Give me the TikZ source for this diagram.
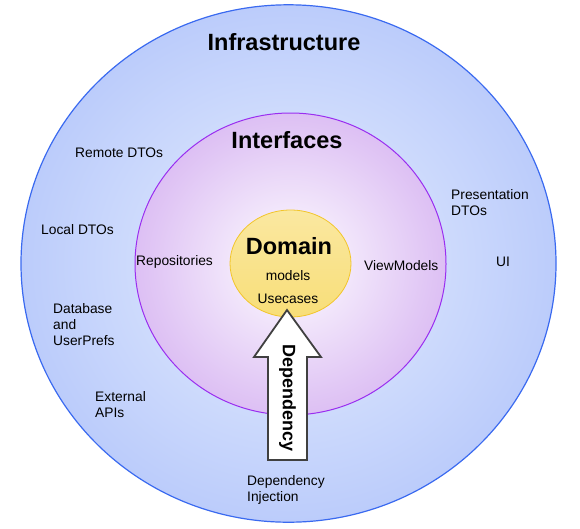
\documentclass[tikz,border=0pt]{standalone}
\usepackage{fontspec}
\setmainfont{Liberation Sans}
\definecolor{infraEdge}{HTML}{3A6AF0}
\definecolor{infraOut}{HTML}{A0B6F8}
\definecolor{infraIn}{HTML}{D2DEFD}
\colorlet{infraMid}{infraIn!55!infraOut}
\definecolor{ifaceEdge}{HTML}{9A2EF0}
\definecolor{ifaceOut}{HTML}{D0A8EF}
\definecolor{ifaceIn}{HTML}{F5ECFC}
\colorlet{ifaceMid}{ifaceIn!45!ifaceOut}
\definecolor{domEdge}{HTML}{F2C52A}
\definecolor{domFill}{HTML}{F8DE78}
\pgfdeclareradialshading{infraShade}{\pgfpoint{0bp}{0bp}}{%
  color(0bp)=(infraIn); color(12bp)=(infraIn); color(25bp)=(infraMid);
  color(35bp)=(infraOut); color(72bp)=(infraOut)}
\pgfdeclareradialshading{ifaceShade}{\pgfpoint{0bp}{0bp}}{%
  color(0bp)=(ifaceIn); color(7bp)=(ifaceIn); color(22bp)=(ifaceMid);
  color(35bp)=(ifaceOut); color(72bp)=(ifaceOut)}
\tikzset{
  title/.style={font=\fontsize{23.5}{27}\selectfont\bfseries},
  item/.style={font=\fontsize{13.8}{16}\selectfont, align=left, inner sep=0pt},
}
\begin{document}
\begin{tikzpicture}[x=1pt,y=-1pt]
  \useasboundingbox (0,0) rectangle (580,528);
  % rings
  \draw[infraEdge, line width=1.2pt, shading=infraShade]
    (288.5,263.5) ellipse [x radius=267.5, y radius=258.7];
  \draw[ifaceEdge, line width=1pt, shading=ifaceShade]
    (290.5,264) ellipse [x radius=155.5, y radius=151];
  \draw[domEdge, line width=0.8pt, top color=domFill!70!white, bottom color=domFill]
    (290.5,263.5) ellipse [x radius=60.5, y radius=53.5];
  % titles
  \node[title] (infra) at (284,42) {Infrastructure};
  \node[title] (iface) at (287,140) {Interfaces};
  \node[title] (domain) at (289,246) {Domain};
  \node[item] (models) at (288,276) {models};
  \node[item] (usecases) at (288,299) {Usecases};
  % interfaces ring
  \node[item, anchor=west] (repos) at (136,262) {Repositories};
  \node[item, anchor=west] (viewmodels) at (364,266) {ViewModels};
  % infrastructure ring
  \node[item, anchor=west] (remote) at (75,153) {Remote DTOs};
  \node[item, anchor=west] (local) at (41,230) {Local DTOs};
  \node[item, anchor=west] (db) at (53,325) {Database\\and\\UserPrefs};
  \node[item, anchor=west] (ext) at (95,404.5) {External\\APIs};
  \node[item, anchor=west] (pres) at (451,203) {Presentation\\DTOs};
  \node[item, anchor=west] (ui) at (496,262) {UI};
  \node[item, anchor=west] (di) at (247,489.5) {Dependency\\Injection};
  % dependency arrow
  \draw[draw=black!75, line width=1.8pt, fill=white, line join=miter]
    (287,310) -- (321,357) -- (307,357) -- (307,460) -- (268,460)
    -- (268,357) -- (254,357) -- cycle;
  \node[font=\fontsize{18}{20}\selectfont\bfseries, rotate=-90] (dep) at (287.5,398) {Dependency};
\end{tikzpicture}
\end{document}
